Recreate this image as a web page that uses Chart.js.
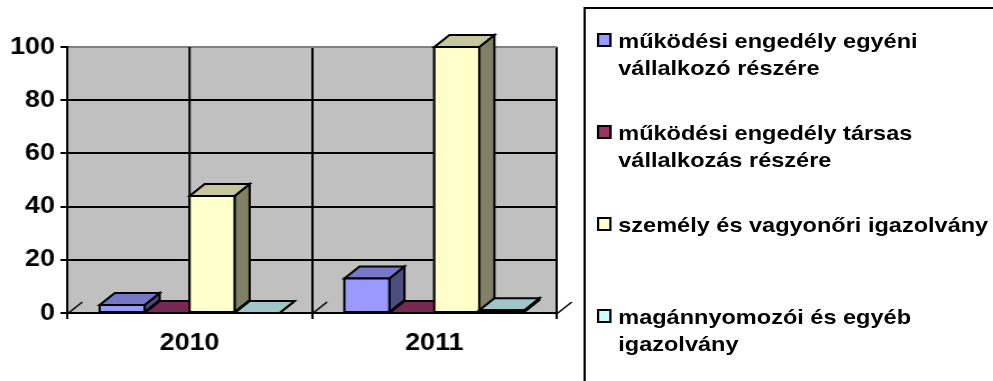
<!DOCTYPE html>
<html>
<head>
<meta charset="utf-8">
<script src="https://cdn.jsdelivr.net/npm/chart.js@4"></script>
<style>
  html, body { margin: 0; padding: 0; background: #fff; overflow: hidden; }
  #stage {
    position: absolute; left: 0; top: 0; width: 887px; height: 381px;
    transform: scaleX(1.12); transform-origin: 0 0;
    font-family: "Liberation Sans", Arial, sans-serif; font-weight: bold;
  }
  #chartBox { position: absolute; left: 0; top: 0; width: 515px; height: 381px; }
  #legendBox {
    position: absolute; left: 521px; top: 7px; width: 420px; height: 420px;
    border: 2px solid #000; box-sizing: border-box;
  }
  .item { position: absolute; left: 10px; width: 360px; font-size: 21px; line-height: 27px; color: #000; }
  .item .swatch {
    position: absolute; left: 0; top: 6px; width: 13px; height: 14px;
    border: 2px solid #000; box-sizing: border-box;
  }
  .item .text { margin-left: 19px; width: 340px; }
</style>
</head>
<body>
<div id="stage">
  <div id="chartBox"><canvas id="barChart"></canvas></div>
  <div id="legendBox"></div>
</div>
<script>
// categories and series values
const years = ['2010', '2011'];
const seriesNames = [
    'működési engedély egyéni vállalkozó részére',
    'működési engedély társas vállalkozás részére',
    'személy és vagyonőri igazolvány',
    'magánnyomozói és egyéb igazolvány'
];
const seriesColors = ['#9999FF', '#993366', '#FFFFCC', '#CCFFFF'];
const egyeni = [3, 13];
const tarsas = [0, 0];
const vagyonor = [44, 100];
const magannyomozo = [0, 1];
const yTicks = [0, 20, 40, 60, 80, 100];

const allValues = [egyeni, tarsas, vagyonor, magannyomozo];

// 3D box depth
const depthX = 13.5;
const depthY = 12;

function shade(hex, f) {
    const n = parseInt(hex.slice(1), 16);
    const r = Math.round(((n >> 16) & 255) * f);
    const g = Math.round(((n >> 8) & 255) * f);
    const b = Math.round((n & 255) * f);
    return `rgb(${r},${g},${b})`;
}

function poly(ctx, pts, fill) {
    ctx.beginPath();
    ctx.moveTo(pts[0][0], pts[0][1]);
    for (let k = 1; k < pts.length; k++) ctx.lineTo(pts[k][0], pts[k][1]);
    ctx.closePath();
    ctx.fillStyle = fill;
    ctx.fill();
    ctx.stroke();
}

const wallPlugin = {
    id: 'wall',
    beforeDraw(chart) {
        const { ctx, chartArea: a } = chart;
        ctx.save();
        ctx.fillStyle = '#C0C0C0';
        ctx.fillRect(a.left, a.top, a.right - a.left, a.bottom - a.top);
        ctx.restore();
    },
    beforeDatasetsDraw(chart) {
        const { ctx, chartArea: a } = chart;
        const xs = chart.scales.x;
        const catW = (a.right - a.left) / years.length;
        ctx.save();
        ctx.strokeStyle = '#000';
        ctx.lineWidth = 2;
        // mid-category wall lines
        years.forEach((y, i) => {
            const cx = xs.getPixelForValue(i);
            ctx.beginPath();
            ctx.moveTo(cx, a.top);
            ctx.lineTo(cx, a.bottom);
            ctx.stroke();
        });
        // floor depth strokes at the category boundaries
        ctx.lineWidth = 1.5;
        for (let i = 0; i <= years.length; i++) {
            const bx = a.left + i * catW;
            ctx.beginPath();
            ctx.moveTo(bx, a.bottom + 1);
            ctx.lineTo(bx + depthX, a.bottom - depthY + 1);
            ctx.stroke();
        }

        // bars as boxes, left to right
        ctx.lineWidth = 2;
        ctx.lineJoin = 'miter';
        years.forEach((y, j) => {
            chart.data.datasets.forEach((ds, i) => {
                const bar = chart.getDatasetMeta(i).data[j];
                const x0 = bar.x - bar.width / 2;
                const x1 = bar.x + bar.width / 2;
                const top = bar.y;
                const base = bar.base;
                const col = seriesColors[i];
                ctx.strokeStyle = '#000';
                poly(ctx, [[x1, top], [x1 + depthX, top - depthY], [x1 + depthX, base - depthY], [x1, base]], shade(col, 0.5));
                poly(ctx, [[x0, top], [x0 + depthX, top - depthY], [x1 + depthX, top - depthY], [x1, top]], shade(col, 0.78));
                if (base - top > 0.5) {
                    poly(ctx, [[x0, top], [x1, top], [x1, base], [x0, base]], col);
                }
            });
        });
        ctx.restore();
        return false;
    }
};

const tickFont = { family: '"Liberation Sans", Arial, sans-serif', size: 24, weight: 'bold' };

const ctx = document.getElementById('barChart').getContext('2d');
new Chart(ctx, {
    type: 'bar',
    data: {
        labels: years,
        datasets: allValues.map((vals, i) => ({
            label: seriesNames[i],
            data: vals,
            backgroundColor: seriesColors[i],
            categoryPercentage: 0.735,
            barPercentage: 1
        }))
    },
    options: {
        responsive: true,
        maintainAspectRatio: false,
        animation: false,
        layout: { padding: { top: 47, right: 18, bottom: 0, left: 0 } },
        plugins: {
            legend: { display: false },
            tooltip: { enabled: false }
        },
        scales: {
            x: {
                grid: {
                    offset: true,
                    color: c => (c.index === years.length ? '#808080' : '#000'),
                    lineWidth: 2,
                    tickLength: 6,
                    tickColor: '#000'
                },
                border: { color: '#000', width: 2 },
                ticks: { font: tickFont, color: '#000', padding: 10 },
                afterFit: s => { s.height = 68; }
            },
            y: {
                min: 0,
                max: 100,
                afterBuildTicks: s => { s.ticks = yTicks.map(v => ({ value: v })); },
                grid: {
                    color: c => (c.tick && c.tick.value === 100 ? '#808080' : '#000'),
                    lineWidth: 2,
                    tickLength: 6,
                    tickColor: '#000'
                },
                border: { color: '#000', width: 2 },
                ticks: { font: tickFont, color: '#000', padding: 5 },
                afterFit: s => { s.width = 60; }
            }
        }
    },
    plugins: [wallPlugin]
});

// legend
const legendBox = document.getElementById('legendBox');
seriesNames.forEach((name, i) => {
    const item = document.createElement('div');
    item.className = 'item';
    item.style.top = (18 + 92 * i) + 'px';
    item.innerHTML = `<span class="swatch" style="background:${seriesColors[i]}"></span><div class="text">${name}</div>`;
    legendBox.appendChild(item);
});
</script>
</body>
</html>
